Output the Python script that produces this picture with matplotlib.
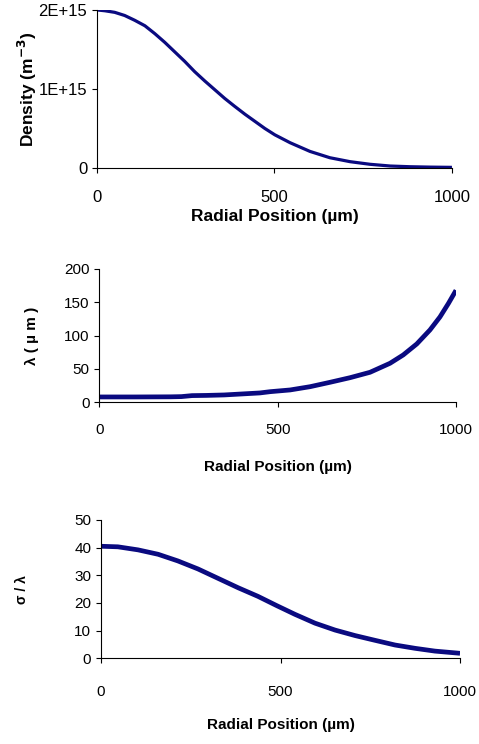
import matplotlib
matplotlib.use("Agg")
import matplotlib.pyplot as plt

# top panel: radial position (um) and density in units of 1E+15 m^-3
r_dens = [0, 22, 50, 78, 106, 135, 163, 191, 219, 247, 275, 304, 332, 360, 388, 417, 445, 473, 501,
          544, 600, 656, 713, 769, 826, 882, 940, 1000]
density = [2.00, 1.99, 1.97, 1.93, 1.87, 1.80, 1.70, 1.59, 1.47, 1.35, 1.22, 1.10, 0.99, 0.88, 0.78,
           0.68, 0.59, 0.50, 0.42, 0.32, 0.21, 0.13, 0.08, 0.047, 0.025, 0.016, 0.011, 0.008]

# middle panel: lambda (um)
r_lam = [0, 100, 200, 230, 260, 300, 350, 400, 450, 479, 535, 591, 647, 703, 759, 815, 852, 890, 927,
         955, 979, 1000]
lam = [8, 8, 8.2, 8.5, 10, 10.3, 11, 12.5, 14, 15.9, 18.5, 23.4, 30, 36.9, 45, 58.5, 71, 87.5, 108.5,
       128, 148.5, 168]

# bottom panel: sigma / lambda
r_sig = [0, 47, 103, 159, 214, 270, 326, 382, 437, 490, 540, 596, 652, 708, 763, 819, 875, 930, 1000]
sig_lam = [40.5, 40.3, 39.2, 37.6, 35.2, 32.3, 28.9, 25.5, 22.4, 19.0, 15.9, 12.7, 10.2, 8.2, 6.5,
           4.8, 3.6, 2.6, 1.8]

dens_ticks = [0, 1e15, 2e15]
dens_ticklabels = ["0", "1E+15", "2E+15"]

plt.rcParams['font.family'] = ['Liberation Sans', 'DejaVu Sans']
navy = '#0a0a80'

fig = plt.figure(figsize=(4.79, 7.44), dpi=100)
ax1 = fig.add_axes([0.2025, 0.7742, 0.741, 0.2124])
ax2 = fig.add_axes([0.2073, 0.4593, 0.7447, 0.1792])
ax3 = fig.add_axes([0.2109, 0.1152, 0.7495, 0.1859])

ax1.plot(r_dens, [d * 1e15 for d in density], color=navy, lw=2.3, solid_capstyle='butt')
ax2.plot(r_lam, lam, color=navy, lw=3.4, solid_capstyle='butt')
ax3.plot(r_sig, sig_lam, color=navy, lw=3.4, solid_capstyle='butt')

ax1.set_ylim(0, 2e15)
ax1.set_yticks(dens_ticks)
ax1.set_yticklabels(dens_ticklabels)
ax2.set_ylim(0, 200)
ax2.set_yticks([0, 50, 100, 150, 200])
ax3.set_ylim(0, 50)
ax3.set_yticks([0, 10, 20, 30, 40, 50])

for ax, pad, fs in [(ax1, 12, 12), (ax2, 11.5, 11), (ax3, 16, 11)]:
    ax.set_xlim(0, 1000)
    ax.set_xticks([0, 500, 1000])
    for s in ['top', 'right']:
        ax.spines[s].set_visible(False)
    for s in ['left', 'bottom']:
        ax.spines[s].set_linewidth(0.8)
    ax.tick_params(direction='out', length=3.5, width=0.8, labelsize=fs)
    ax.tick_params(axis='x', pad=pad)

ax1.set_xlabel("Radial Position (µm)", fontsize=12.5, fontweight='bold')
ax2.set_xlabel("Radial Position (µm)", fontsize=11, fontweight='bold')
ax3.set_xlabel("Radial Position (µm)", fontsize=11, fontweight='bold')
ax1.xaxis.set_label_coords(0.5, -0.26)
ax2.xaxis.set_label_coords(0.5, -0.433)
ax3.xaxis.set_label_coords(0.5, -0.432)

ax1.set_ylabel("Density (m$^{\\mathbf{-3}}$)", fontsize=12.5, fontweight='bold', va='center')
ax2.set_ylabel("λ ( µ m )", fontsize=11, fontweight='bold', va='center')
ax3.set_ylabel("σ / λ", fontsize=10, fontweight='bold', va='center')
ax1.yaxis.set_label_coords(-0.195, 0.5)
ax2.yaxis.set_label_coords(-0.189, 0.5)
ax3.yaxis.set_label_coords(-0.22, 0.5)

fig.savefig("out.png", dpi=100)
